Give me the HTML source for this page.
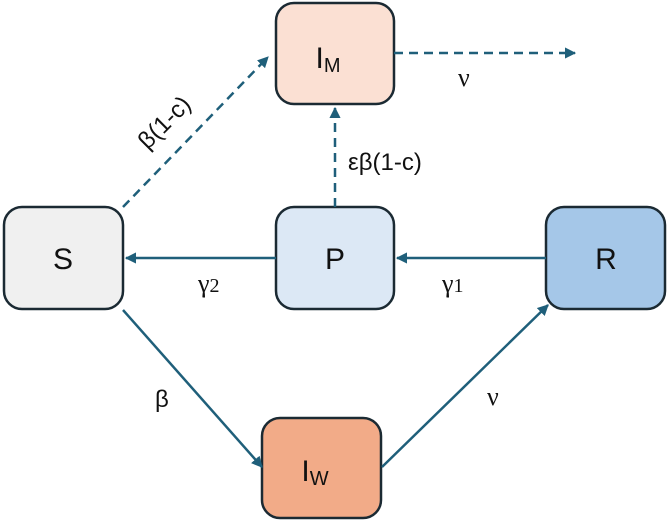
<!DOCTYPE html>
<html><head><meta charset="utf-8"><style>html,body{margin:0;padding:0;background:#fff}svg{display:block}</style></head>
<body>
<svg width="670" height="522" viewBox="0 0 670 522" xmlns="http://www.w3.org/2000/svg">
<defs>
<marker id="ah" viewBox="0 0 10 10" refX="9" refY="5" markerWidth="4.5" markerHeight="4.5" orient="auto"><path d="M0,0 L10,5 L0,10 z" fill="#1f5f7a"/></marker>
</defs>
<g stroke="#1b2a33" stroke-width="2.5">
<rect x="276" y="3" width="118" height="101" rx="18" fill="#fbe0d3"/>
<rect x="4" y="207" width="119" height="102" rx="18" fill="#f0f0f0"/>
<rect x="276" y="207" width="118" height="102" rx="18" fill="#dce8f5"/>
<rect x="546" y="207" width="119" height="102" rx="18" fill="#a5c7e8"/>
<rect x="262" y="418" width="119" height="100" rx="18" fill="#f2ab88"/>
</g>
<g stroke="#1f5f7a" stroke-width="2.5" fill="none" marker-end="url(#ah)">
<line x1="276" y1="258" x2="126" y2="258"/>
<line x1="546" y1="258" x2="397" y2="258"/>
<line x1="123" y1="310" x2="262" y2="467"/>
<line x1="382" y1="467" x2="548" y2="305"/>
<line x1="123" y1="207" x2="268" y2="57" stroke-dasharray="9,6"/>
<line x1="394" y1="53" x2="575" y2="53" stroke-dasharray="9,6"/>
<line x1="335" y1="207" x2="335" y2="108" stroke-dasharray="9,6"/>
</g>
<g font-family="Liberation Sans, sans-serif" fill="#111" font-size="30" text-anchor="middle">
<text x="63" y="269">S</text>
<text x="335" y="269">P</text>
<text x="606" y="269">R</text>
<text x="328" y="68">I<tspan font-size="20" dy="4">M</tspan></text>
<text x="315" y="481">I<tspan font-size="20" dy="4">W</tspan></text>
</g>
<g font-family="Liberation Sans, sans-serif" fill="#111" font-size="24">
<text x="348" y="170">εβ(1-c)</text>
<text x="155" y="407">β</text>
<text transform="translate(170,128) rotate(-45)" text-anchor="middle">β(1-c)</text>
</g>
<g font-family="Liberation Serif, serif" fill="#111" font-size="26" font-style="normal">
<text x="458" y="86">ν</text>
<text x="487" y="405">ν</text>
<text x="198" y="292">γ<tspan font-size="20">2</tspan></text>
<text x="442" y="292">γ<tspan font-size="20">1</tspan></text>
</g>
</svg>
</body></html>
